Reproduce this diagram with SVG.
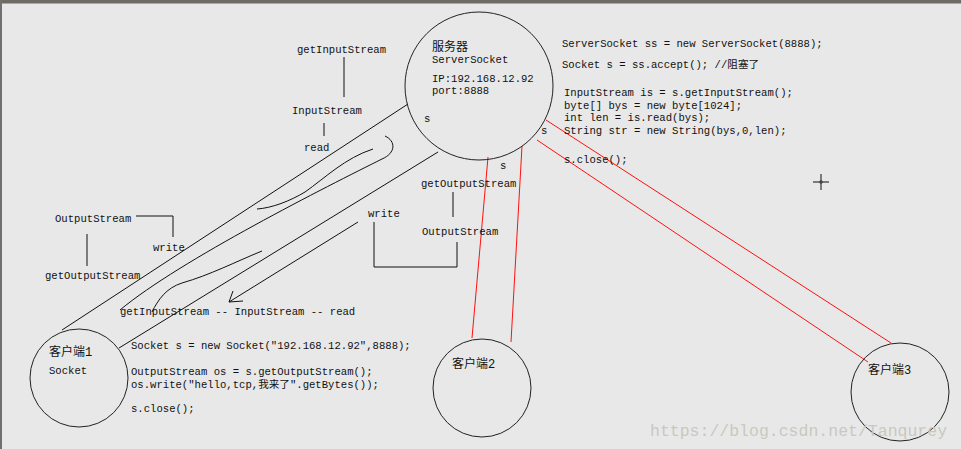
<svg xmlns="http://www.w3.org/2000/svg" width="961" height="449" viewBox="0 0 961 449">
<style>
.t{font-family:"Liberation Mono","DejaVu Sans Mono","Noto Sans CJK SC",monospace;font-size:10.6px;fill:#111}
.c{font-family:"Liberation Mono","Noto Sans CJK SC",monospace;font-size:12px;fill:#111}
.ln{stroke:#111;stroke-width:1;fill:none}
.rd{stroke:#ff1010;stroke-width:1;fill:none}
.circ{stroke:#222;stroke-width:1;fill:none}
.wm{font-family:"Liberation Mono","DejaVu Sans Mono",monospace;font-size:16.5px;fill:#c8c8c0}
</style>
<rect x="0" y="0" width="961" height="449" fill="#e8e8e8"/>
<rect x="0" y="0" width="961" height="3.5" fill="#6e6a64"/>
<rect x="0" y="0" width="2" height="449" fill="#707070"/>

<g id="connectors">
<line class="ln" x1="408" y1="104" x2="62" y2="330"/>
<line class="ln" x1="438" y1="152" x2="119" y2="348"/>
<path class="ln" d="M373,149 C345,158 325,178 305,192 C290,201 272,208 257,209"/>
<path class="ln" d="M385,136 C396,141 396,153 382,159 C330,185 180,260 120,310"/>
<path class="ln" d="M262,251 C235,262 210,275 182,283 C166,288 158,300 152,312"/>
<line class="ln" x1="358" y1="222" x2="229" y2="302"/>
<path class="ln" d="M233,291 L229,302 L243,301"/>
<line class="rd" x1="488" y1="157" x2="472" y2="338"/>
<line class="rd" x1="522" y1="146" x2="511" y2="342"/>
<line class="rd" x1="546" y1="120" x2="891" y2="343"/>
<line class="rd" x1="537" y1="140" x2="868" y2="362"/>
<line class="ln" x1="344" y1="57" x2="344" y2="97"/>
<line class="ln" x1="324" y1="123" x2="324" y2="136"/>
<path class="ln" d="M136,216 H173 V237"/>
<line class="ln" x1="87" y1="234" x2="87" y2="266"/>
<line class="ln" x1="453" y1="192" x2="453" y2="217"/>
<path class="ln" d="M457,242 V267 H374 V222"/>
</g>

<g id="server">
<circle class="circ" cx="479" cy="86" r="74"/>
<text class="c" x="432" y="51">服务器</text>
<text class="t" x="432" y="63">ServerSocket</text>
<text class="t" x="432" y="82">IP:192.168.12.92</text>
<text class="t" x="432" y="94">port:8888</text>
<text class="t" x="424" y="122">s</text>
<text class="t" x="541" y="134">s</text>
<text class="t" x="500" y="169">s</text>
</g>

<g id="client1">
<circle class="circ" cx="79" cy="378" r="49"/>
<text class="c" x="49" y="356">客户端1</text>
<text class="t" x="49" y="374">Socket</text>
</g>

<g id="client2">
<circle class="circ" cx="482" cy="388" r="49"/>
<text class="c" x="452" y="368">客户端2</text>
</g>

<g id="client3">
<circle class="circ" cx="900" cy="392" r="49"/>
<text class="c" x="868" y="374">客户端3</text>
</g>

<g id="labels">
<text class="t" x="297" y="53">getInputStream</text>
<text class="t" x="292" y="114">InputStream</text>
<text class="t" x="304" y="151">read</text>
<text class="t" x="55" y="222">OutputStream</text>
<text class="t" x="153" y="251">write</text>
<text class="t" x="45" y="279">getOutputStream</text>
<text class="t" x="120" y="315">getInputStream -- InputStream -- read</text>
<text class="t" x="421" y="187">getOutputStream</text>
<text class="t" x="422" y="235">OutputStream</text>
<text class="t" x="368" y="217">write</text>
</g>

<g id="server-code">
<text class="t" x="562" y="47">ServerSocket ss = new ServerSocket(8888);</text>
<text class="t" x="562" y="68">Socket s = ss.accept(); //阻塞了</text>
<text class="t" x="564" y="96">InputStream is = s.getInputStream();</text>
<text class="t" x="564" y="109">byte[] bys = new byte[1024];</text>
<text class="t" x="564" y="121">int len = is.read(bys);</text>
<text class="t" x="564" y="134">String str = new String(bys,0,len);</text>
<text class="t" x="564" y="163">s.close();</text>
</g>

<g id="client-code">
<text class="t" x="131" y="349">Socket s = new Socket("192.168.12.92",8888);</text>
<text class="t" x="131" y="375">OutputStream os = s.getOutputStream();</text>
<text class="t" x="131" y="388">os.write("hello,tcp,我来了".getBytes());</text>
<text class="t" x="131" y="412">s.close();</text>
</g>

<g id="crosshair">
<line class="ln" x1="813" y1="182" x2="829" y2="182"/>
<line class="ln" x1="821" y1="174" x2="821" y2="190"/>
<circle cx="821" cy="182" r="1.5" fill="none" stroke="#444" stroke-width="0.8"/>
</g>

<text class="wm" x="650" y="436">https://blog.csdn.net/Tanqurey</text>
</svg>
